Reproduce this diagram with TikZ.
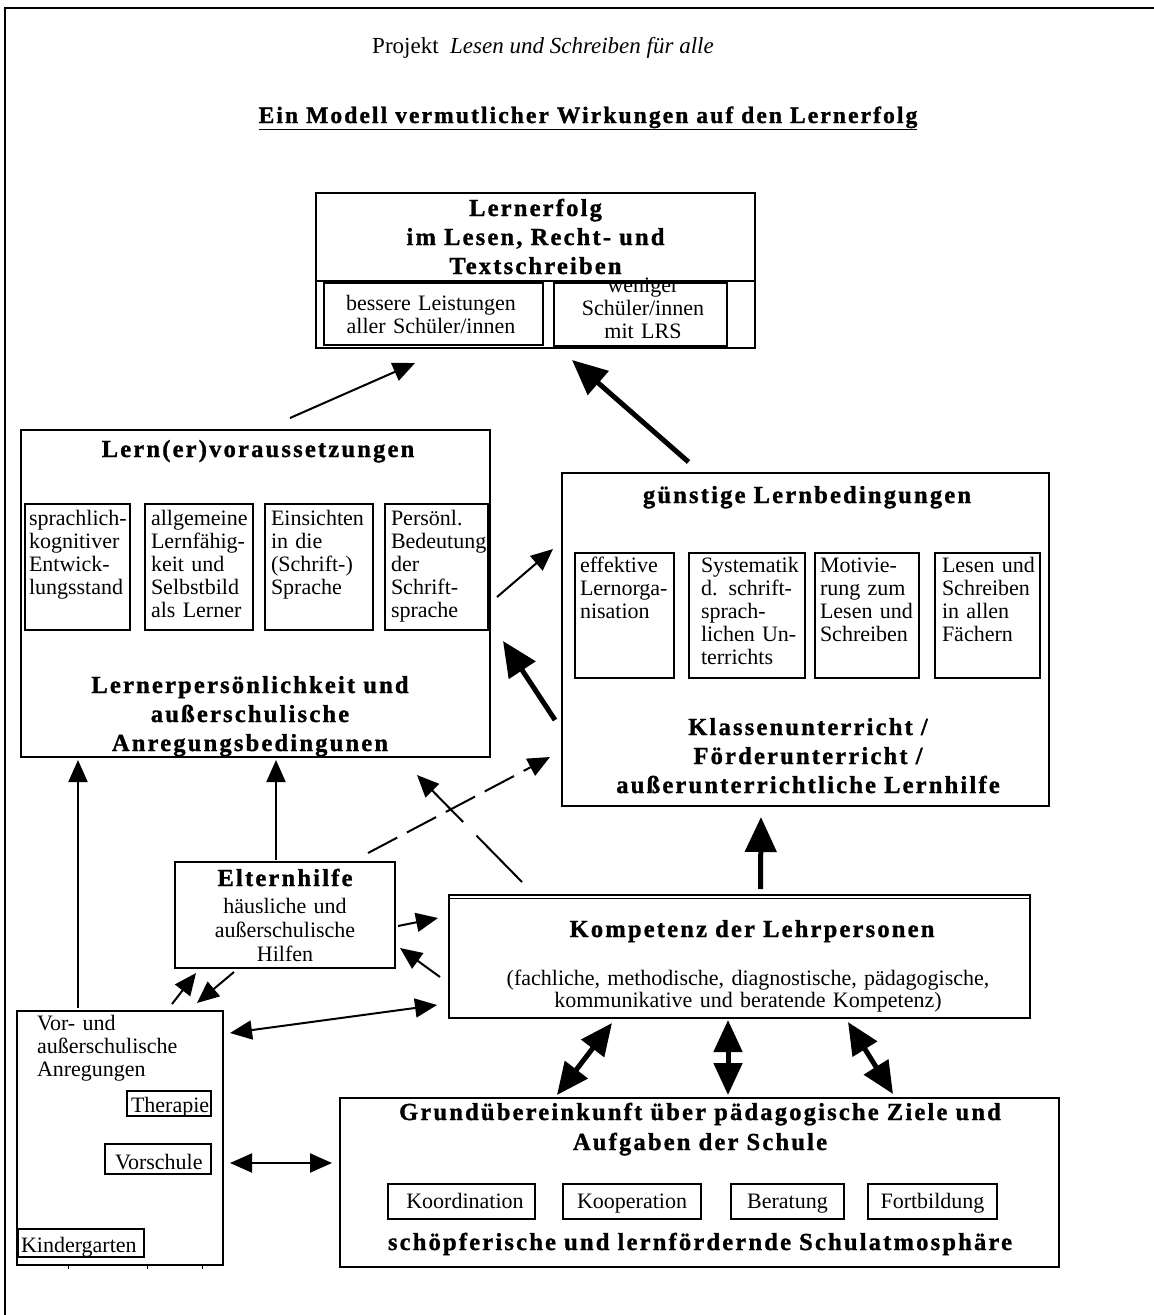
\documentclass[tikz,border=0pt]{standalone}
\usepackage{fontspec}
\setmainfont{Liberation Serif}
\newfontfamily\headfont{Liberation Serif}[LetterSpace=9,FakeBold=1.2]
\usetikzlibrary{arrows.meta}
\newcommand\nf{\fontsize{22}{23}\selectfont}
\newcommand\hf{\headfont\bfseries\fontsize{24.5}{29}\selectfont}
% \boxat[opts]{name}{x1}{y1}{x2}{y2}
\newcommand{\boxat}[6][]{%
  \node[box,#1,minimum width={(#5-#3)*1pt},minimum height={(#6-#4)*1pt}] (#2) at ({(#3+#5)/2},{(#4+#6)/2}) {};}
\tikzset{
  box/.style={draw,line width=1.8pt,inner sep=0pt,outer sep=0pt},
  txt/.style={inner sep=0pt,outer sep=0pt},
  ctr/.style={txt,text width=#1,align=center,anchor=base},
  lft/.style={txt,text width=#1,align=left,anchor=base west,font=\nf},
  arr/.style={line width=2pt,-{Triangle[length=22pt,width=19pt]}},
  darr/.style={line width=2pt,{Triangle[length=22pt,width=19pt]}-{Triangle[length=22pt,width=19pt]}},
  tarr/.style={line width=5pt,-{Triangle[length=35pt,width=31pt]}},
  tdarr/.style={line width=5pt,{Triangle[length=32pt,width=28pt]}-{Triangle[length=32pt,width=28pt]}},
}
\begin{document}
\begin{tikzpicture}[x=1pt,y=-1pt]
\useasboundingbox (0,0) rectangle (1154,1315);
% outer frame
\draw[line width=2.5pt] (5,1315) -- (5,8) -- (1154,8);

% header
\node[txt,anchor=base,font=\fontsize{23}{26}\selectfont] (proj) at (543,53) {Projekt\ \ \textit{Lesen und Schreiben für alle}};
\node[txt,anchor=base,font=\headfont\bfseries\fontsize{23.5}{26}\selectfont] (title) at (588,123) {\underline{Ein Modell vermutlicher Wirkungen auf den Lernerfolg}};

% Lernerfolg
\boxat{lern}{316}{193}{755}{348}
\draw[line width=1.8pt] ([yshift=-88pt]lern.north west) -- ([yshift=-88pt]lern.north east);
\boxat{lernA}{324}{283}{543}{345}
\boxat{lernB}{554}{283}{727}{346}
\node[ctr=430pt,font=\hf] (tlern) at (535.5,216) {Lernerfolg\\im Lesen, Recht- und\\Textschreiben};
\node[ctr=215pt,font=\nf] (tlernA) at (431,310) {bessere Leistungen\\aller Schüler/innen};
\node[ctr=170pt,font=\nf] (tlernB) at (643,292) {weniger\\Schüler/innen\\mit LRS};

% Lern(er)voraussetzungen
\boxat{lv}{21}{430}{490}{757}
\node[ctr=460pt,font=\hf] (tlv) at (258,457) {Lern(er)voraussetzungen};
\boxat{lvA}{25}{504}{130}{630}
\boxat{lvB}{145}{504}{253}{630}
\boxat{lvC}{265}{504}{373}{630}
\boxat{lvD}{385}{504}{488}{630}
\node[lft=110pt] (tlvA) at (29,525) {sprachlich-\\kognitiver\\Entwick-\\lungsstand};
\node[lft=110pt] (tlvB) at (151,525) {allgemeine\\Lernfähig-\\keit und\\Selbstbild\\als Lerner};
\node[lft=110pt] (tlvC) at (271,525) {Einsichten\\in die\\(Schrift-)\\Sprache};
\node[lft=110pt] (tlvD) at (391,525) {Persönl.\\Bedeutung\\der\\Schrift-\\sprache};
\node[ctr=460pt,font=\hf] (tlv2) at (250,693) {Lernerpersönlichkeit und\\außerschulische\\Anregungsbedingunen};

% guenstige Lernbedingungen
\boxat{gl}{562}{473}{1049}{806}
\node[ctr=480pt,font=\hf] (tgl) at (807,503) {günstige Lernbedingungen};
\boxat{glA}{575}{553}{674}{678}
\boxat{glB}{689}{553}{805}{678}
\boxat{glC}{815}{553}{919}{678}
\boxat{glD}{935}{553}{1040}{678}
\node[lft=110pt] (tglA) at (580,572) {effektive\\Lernorga-\\nisation};
\node[lft=115pt] (tglB) at (701,572) {Systematik\\d. schrift-\\sprach-\\lichen Un-\\terrichts};
\node[lft=110pt] (tglC) at (820,572) {Motivie-\\rung zum\\Lesen und\\Schreiben};
\node[lft=110pt] (tglD) at (942,572) {Lesen und\\Schreiben\\in allen\\Fächern};
\node[ctr=480pt,font=\hf] (tgl2) at (808,735) {Klassenunterricht /\\Förderunterricht /\\außerunterrichtliche Lernhilfe};

% Elternhilfe
\boxat{eh}{175}{862}{395}{968}
\node[ctr=215pt,font=\hf] (teh) at (285,886) {Elternhilfe};
\node[ctr=215pt,font=\fontsize{22}{24}\selectfont] (teh2) at (285,913) {häusliche und\\außerschulische\\Hilfen};

% Kompetenz
\boxat{kp}{449}{895}{1030}{1018}
\draw[line width=1.2pt] ([yshift=-3.5pt]kp.north west) -- ([yshift=-3.5pt]kp.north east);
\node[ctr=570pt,font=\hf] (tkp) at (752,937) {Kompetenz der Lehrpersonen};
\node[ctr=570pt,font=\fontsize{22}{22}\selectfont] (tkp2) at (748,985) {(fachliche, methodische, diagnostische, pädagogische,\\kommunikative und beratende Kompetenz)};

% Vor- und ausserschulische Anregungen
\boxat{vs}{17}{1011}{223}{1265}
\node[lft=180pt] (tvs) at (37,1030) {Vor- und\\außerschulische\\Anregungen};
\boxat{vsA}{127}{1091}{211}{1116}
\boxat{vsB}{105}{1144}{211}{1174}
\boxat{vsC}{18}{1229}{144}{1257}
\node[txt,anchor=base west,font=\nf] (tvsA) at (131,1112) {Therapie};
\node[txt,anchor=base west,font=\nf] (tvsB) at (115,1169) {Vorschule};
\node[txt,anchor=base west,font=\nf] (tvsC) at (21,1252) {Kindergarten};
\foreach \tx in {68,147,202} \draw[line width=1pt] (\tx,1265) -- (\tx,1269);

% Grunduebereinkunft
\boxat{gr}{340}{1098}{1059}{1267}
\node[ctr=700pt,font=\headfont\bfseries\fontsize{24.5}{30}\selectfont] (tgr) at (700,1120) {Grundübereinkunft über pädagogische Ziele und\\Aufgaben der Schule};
\boxat{grA}{388}{1184}{535}{1219}
\boxat{grB}{563}{1184}{701}{1219}
\boxat{grC}{731}{1184}{844}{1219}
\boxat{grD}{868}{1184}{997}{1219}
\node[ctr=140pt,font=\nf] (tgrA) at (465,1208) {Koordination};
\node[ctr=140pt,font=\nf] (tgrB) at (632,1208) {Kooperation};
\node[ctr=110pt,font=\nf] (tgrC) at (787.5,1208) {Beratung};
\node[ctr=125pt,font=\nf] (tgrD) at (932.5,1208) {Fortbildung};
\node[ctr=700pt,font=\hf] (tgr2) at (700,1250) {schöpferische und lernfördernde Schulatmosphäre};

% connectors
\draw[arr] ([xshift=34.5pt,yshift=12pt]lv.north) -- ([xshift=-120.5pt,yshift=-15pt]lern.south);
\draw[tarr] ([xshift=-117pt,yshift=11pt]gl.north) -- ([xshift=36.5pt,yshift=-12pt]lern.south);
\draw[arr] ([xshift=7pt,yshift=-3.5pt]lv.east) -- ([xshift=-9pt,yshift=90.5pt]gl.west);
\draw[tarr] ([xshift=-7pt,yshift=-80.5pt]gl.west) -- ([xshift=13pt,yshift=-47.5pt]lv.east);
\draw[arr,dash pattern=on 33pt off 11pt] ([xshift=83pt,yshift=9pt]eh.north) -- ([xshift=-12pt,yshift=-117.5pt]gl.west);
\draw[arr,dash pattern=on 65pt off 19pt on 300pt off 1pt] ([xshift=-217.5pt,yshift=13pt]kp.north) -- ([xshift=161.5pt,yshift=-18pt]lv.south);
\draw[arr] ([xshift=-9pt,yshift=2pt]eh.north) -- ([xshift=20.5pt,yshift=-3pt]lv.south);
\draw[arr] ([xshift=-42pt,yshift=3pt]vs.north) -- ([xshift=-177.5pt,yshift=-3pt]lv.south);
\draw[arr] ([xshift=3pt,yshift=-11pt]eh.east) -- ([xshift=-11pt,yshift=38.5pt]kp.west);
\draw[arr] ([xshift=-9pt,yshift=-20.5pt]kp.west) -- ([xshift=5pt,yshift=-33pt]eh.east);
\draw[arr] ([xshift=52pt,yshift=7pt]vs.north) -- ([xshift=-89pt,yshift=-5pt]eh.south);
\draw[arr] ([xshift=-51pt,yshift=-4pt]eh.south) -- ([xshift=77pt,yshift=8pt]vs.north);
\draw[darr] ([xshift=7pt,yshift=105pt]vs.east) -- ([xshift=-12pt,yshift=-48.5pt]kp.west);
\draw[tarr] ([xshift=21pt,yshift=6pt]kp.north) -- ([xshift=-44.5pt,yshift=-11pt]gl.south);
\draw[tdarr] ([xshift=-127.5pt,yshift=-5pt]kp.south) -- ([xshift=-142.5pt,yshift=3pt]gr.north);
\draw[tdarr] ([xshift=-11.5pt,yshift=-2pt]kp.south) -- ([xshift=28.5pt,yshift=3pt]gr.north);
\draw[tdarr] ([xshift=108.5pt,yshift=-4pt]kp.south) -- ([xshift=193.5pt,yshift=4pt]gr.north);
\draw[darr] ([xshift=7pt,yshift=-25pt]vs.east) -- ([xshift=-8pt,yshift=19.5pt]gr.west);
\end{tikzpicture}
\end{document}
